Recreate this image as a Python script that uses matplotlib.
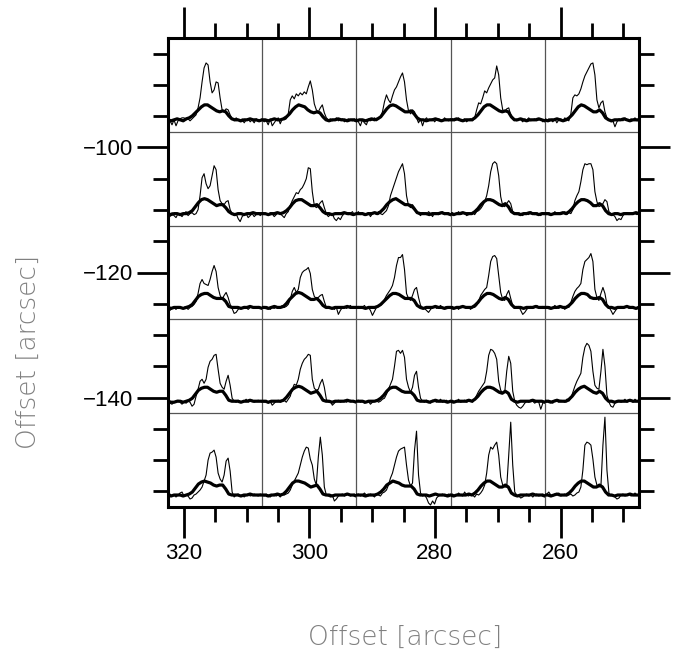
import numpy as np
import matplotlib
matplotlib.use("Agg")
import matplotlib.pyplot as plt
from matplotlib.ticker import MultipleLocator, FixedLocator

# ---------------- data ----------------
# map grid (arcsec offsets of panel centres)
COL_OFFSETS = [315, 300, 285, 270, 255]
ROW_OFFSETS = [-90, -105, -120, -135, -150]
PANEL_SIZE = 15
X_TICKS = [320, 300, 280, 260]
Y_TICKS = [-100, -120, -140]

# thin spectra (48 channels, arbitrary intensity units), one list per panel
THIN_R1 = [
    [1,-1,-5,0,-6,-1,1,2,2,0,1,-1,1,3,5,12,22,38,52,57,55,38,27,30,38,37,22,10,8,11,10,5,1,-1,2,0,-2,1,-3,0,1,-2,0,-3,1,-1,0,1],
    [0,-2,-1,-5,1,-6,-3,0,2,-4,1,0,1,6,20,24,21,26,24,27,25,28,26,33,39,30,16,10,8,12,15,7,2,0,1,-1,0,2,-1,0,1,-2,0,1,0,-1,1,0],
    [1,-2,-6,0,-3,-5,1,-1,0,2,-1,1,3,8,18,25,20,17,24,30,33,38,43,47,38,20,9,6,10,8,2,-3,1,-6,0,2,-1,0,1,-2,0,1,0,-1,2,0,-1,1],
    [0,1,-1,0,2,-1,0,1,-2,0,1,-1,2,10,17,16,22,29,27,32,36,40,42,54,45,22,10,8,11,12,5,1,0,-1,1,0,-2,1,0,2,-1,0,1,-1,0,1,-2,0],
    [0,-1,1,0,-2,1,-3,0,1,-1,2,0,-1,6,22,25,24,26,31,38,44,48,52,56,57,45,20,12,17,19,8,2,0,-2,-1,-7,-2,1,0,-1,2,0,-1,1,0,2,-1,0],
]
THIN_R2 = [
    [0,-3,1,-2,-4,0,-1,-3,0,2,-2,0,1,-1,0,4,18,36,40,30,25,28,38,48,44,24,13,10,9,12,13,4,0,-2,0,-5,-8,-3,-1,0,-4,-2,0,-3,-1,1,-2,0],
    [1,-1,0,-2,1,0,-3,-1,1,0,-2,-4,0,2,8,13,17,21,20,24,26,30,35,46,45,22,8,6,8,11,13,6,0,-3,-1,0,-5,-7,-4,-6,-2,0,1,-1,0,2,-1,0],
    [0,2,-1,1,-2,0,1,-3,0,1,-1,2,0,-1,1,3,8,18,24,30,36,42,46,50,40,18,8,6,9,6,1,0,-2,1,0,-1,2,0,-3,1,0,-1,0,2,-1,0,1,-1],
    [0,1,-1,0,2,-1,0,1,-2,-1,0,1,-1,2,3,5,8,12,18,28,42,50,52,50,38,17,8,7,10,13,10,2,0,-1,1,0,-2,1,0,-1,2,0,-1,1,0,-2,1,0],
    [0,-1,1,0,-1,2,0,1,-1,0,2,-1,1,0,4,13,18,22,32,44,50,49,50,50,44,22,12,7,8,10,14,12,2,0,-1,-3,-7,-5,-6,-2,0,1,-1,0,1,0,-1,0],
]
THIN_R3 = [
    [0,-3,-1,0,-2,1,0,-1,0,1,-2,0,1,3,6,14,24,28,24,23,22,28,36,42,36,20,12,8,12,15,10,3,-1,-6,-5,-2,0,-1,1,0,-2,0,1,-1,0,1,-1,0],
    [0,-1,1,0,-2,0,-1,1,0,-1,2,0,1,3,8,16,20,15,18,30,35,37,38,40,34,18,11,9,10,12,13,6,0,1,-1,0,-2,0,-7,-3,0,1,-1,0,2,-1,0,1],
    [0,1,-1,0,2,-1,0,-3,-8,-4,0,1,2,4,8,12,15,18,22,30,42,50,50,53,38,14,9,7,12,18,20,10,2,0,-1,-3,-5,-2,0,1,-1,0,2,-1,0,1,0,-1],
    [0,1,-1,0,-2,1,0,1,-1,0,-2,1,0,2,6,12,15,18,20,32,46,51,52,49,32,15,8,7,13,17,9,2,-1,0,1,-3,-7,-5,-2,0,1,-1,0,2,0,-1,1,0],
    [0,-1,1,0,-1,2,0,-1,1,0,-2,1,0,5,11,16,19,21,24,38,46,48,50,54,46,18,10,7,14,20,14,3,0,-3,-7,-4,-1,0,1,-1,0,2,-1,0,1,-1,0,1],
]
THIN_R4 = [
    [0,-2,-3,-1,0,1,-1,-3,0,-2,0,-1,-5,-3,5,12,20,22,18,22,34,40,42,46,47,32,18,14,12,20,26,16,3,0,-1,1,0,-1,0,2,-1,0,1,-1,0,1,0,-1],
    [0,-1,1,-2,0,-4,-2,0,1,-1,0,1,-1,2,5,12,17,16,22,32,38,42,44,47,46,22,13,11,12,18,22,14,2,-1,0,-4,-2,0,1,-1,0,1,-1,0,1,0,-1,0],
    [0,1,-1,0,-2,-1,0,-3,-1,0,1,-1,0,2,3,7,12,17,22,35,50,51,48,51,44,22,14,9,14,26,30,14,3,0,-1,1,0,-2,1,0,-1,0,2,-1,0,1,-1,0],
    [0,1,-1,0,2,-1,0,1,-1,0,1,-1,2,6,10,13,16,19,30,46,52,51,48,42,20,11,8,9,30,45,38,10,0,-4,-6,-7,-5,-2,0,-1,1,0,-2,0,-1,-8,-2,0],
    [0,-1,1,0,-2,1,0,-1,1,0,-1,2,0,3,9,15,20,24,28,44,54,58,56,50,30,16,13,12,30,52,35,6,-1,-5,-6,-2,0,1,-1,0,2,-1,0,1,-1,2,0,1],
]
THIN_R5 = [
    [0,1,-1,0,-2,0,2,3,-1,0,-1,-4,-3,0,1,3,5,8,14,20,35,42,43,45,38,22,16,13,20,34,37,24,3,-2,0,1,-1,0,-2,0,1,-1,0,1,0,-1,1,0],
    [0,-1,1,0,-2,0,1,-1,0,-2,1,0,1,2,5,10,14,18,22,30,38,44,48,47,36,30,16,10,38,58,40,8,0,-1,-2,0,-6,-4,-1,0,1,-1,0,1,-1,0,1,0],
    [0,1,-1,0,2,0,-1,1,0,-2,1,0,-1,2,3,5,10,17,22,30,38,44,46,47,48,30,15,9,12,45,64,20,2,-1,0,-3,-8,-10,-6,-9,-3,-1,0,1,-1,0,1,0],
    [0,1,-1,0,2,0,-1,3,0,-1,1,0,-2,1,0,2,5,10,22,40,48,46,50,53,40,18,10,8,8,40,73,30,3,0,-1,-3,-2,0,1,-1,0,-2,0,1,-1,0,1,0],
    [0,1,3,0,-1,1,0,2,-1,0,1,-1,0,1,-1,0,2,3,8,25,50,53,52,50,36,18,10,8,9,50,78,25,2,-1,0,-2,-4,-3,0,1,-1,0,1,-1,0,2,0,-1],
]

# thick (smoothed) spectra (32 channels, same units)
THICK_R1 = [
    [0,-1,0,1,0,-1,1,2,4,7,10,13,15,15,13,11,9,8,9,8,4,1,0,0,-1,0,0,1,0,0,-1,0],
    [0,0,-1,0,1,0,0,1,3,6,10,13,15,14,13,10,8,7,8,7,3,0,-1,0,0,1,0,0,-1,0,0,-1],
    [-1,0,0,-1,0,1,0,1,3,7,11,14,15,14,12,10,8,8,9,6,2,0,0,-1,0,0,1,0,-1,0,0,0],
    [0,0,1,0,-1,0,0,0,2,5,9,13,15,15,13,11,9,8,9,8,3,0,0,1,0,-1,0,0,0,1,0,-1],
    [0,-1,0,0,1,0,-1,0,2,5,9,13,15,14,12,10,8,8,10,7,2,0,-1,0,0,0,1,0,-1,0,0,0],
]
THICK_R2 = [
    [0,-1,0,0,-1,0,0,1,3,7,11,14,15,14,12,10,8,9,9,6,2,0,-1,0,0,-1,0,0,1,0,0,0],
    [0,0,-1,0,0,1,0,1,3,6,10,13,14,14,12,10,8,8,9,6,2,0,0,-1,0,0,0,1,0,0,-1,0],
    [0,0,0,-1,0,0,1,0,2,5,9,12,14,15,13,11,9,9,8,5,1,0,0,0,-1,0,0,0,1,0,0,-1],
    [0,-1,0,0,1,0,0,0,2,5,9,12,14,14,13,11,9,8,10,7,2,0,0,-1,0,0,1,0,0,-1,0,0],
    [0,0,-1,0,0,0,1,0,2,5,9,12,14,14,13,11,8,8,10,8,3,0,-1,0,0,-1,0,0,0,0,1,0],
]
THICK_R3 = [
    [0,-1,0,0,0,-1,0,1,3,7,11,13,14,14,12,10,9,9,9,6,1,0,0,0,-1,0,0,1,0,0,0,-1],
    [0,0,-1,0,1,0,0,1,4,8,11,14,15,14,12,10,8,8,9,6,2,0,0,-1,0,0,0,0,1,0,0,0],
    [0,0,0,-1,0,0,0,1,3,6,9,12,14,14,13,11,9,9,9,7,2,0,-1,0,0,0,1,0,0,-1,0,0],
    [0,-1,0,0,1,0,0,0,2,5,9,12,14,14,13,11,9,8,10,8,3,0,0,0,-1,0,0,0,1,0,0,0],
    [0,0,-1,0,0,1,0,0,2,5,9,12,14,14,13,10,9,9,10,8,3,0,0,-1,0,0,0,1,0,0,-1,0],
]
THICK_R4 = [
    [0,-1,-1,0,0,-1,0,1,3,7,11,13,14,14,12,10,9,10,10,6,1,0,0,0,-1,0,0,1,0,0,0,0],
    [0,0,-1,0,0,0,0,1,4,8,12,14,15,14,12,10,8,9,10,6,1,0,0,-1,0,0,0,0,1,0,0,-1],
    [0,0,0,-1,0,0,0,1,3,6,10,13,14,14,12,10,9,9,9,6,1,0,0,0,-1,0,1,0,0,0,-1,0],
    [0,-1,0,0,0,0,1,0,2,5,9,12,14,14,13,11,9,8,10,8,2,0,-1,0,0,0,0,1,0,0,0,-1],
    [0,0,-1,0,1,0,0,0,2,5,9,12,14,15,13,11,9,8,10,8,3,0,0,-1,0,0,0,0,1,0,0,0],
]
THICK_R5 = [
    [0,-1,0,0,0,-1,0,1,3,7,11,13,14,13,12,10,9,10,10,6,1,0,0,0,-1,0,0,1,0,0,0,0],
    [0,0,-1,0,0,1,0,1,4,8,12,14,14,13,12,10,8,9,10,6,1,0,0,-1,0,0,0,0,1,0,0,-1],
    [0,0,0,-1,0,0,0,1,3,6,10,12,14,13,12,10,9,9,9,6,1,0,0,0,-1,0,1,0,0,0,-1,0],
    [0,-1,0,0,0,0,1,0,2,5,9,12,14,14,12,10,8,8,10,8,2,0,-1,0,0,0,0,1,0,0,0,-1],
    [0,0,-1,0,1,0,0,0,2,5,9,12,14,14,12,10,8,8,10,8,3,0,0,-1,0,0,0,0,1,0,0,0],
]

THIN_ROWS = [THIN_R1, THIN_R2, THIN_R3, THIN_R4, THIN_R5]
THICK_ROWS = [THICK_R1, THICK_R2, THICK_R3, THICK_R4, THICK_R5]

# ---------------- figure ----------------
fig = plt.figure(figsize=(6.83, 6.55), dpi=100)
ax = fig.add_axes([168 / 683, 148 / 655, 471 / 683, 469 / 655])

half = PANEL_SIZE / 2
x_left, x_right = max(COL_OFFSETS) + half, min(COL_OFFSETS) - half
y_bot, y_top = min(ROW_OFFSETS) - half, max(ROW_OFFSETS) + half
ax.set_xlim(x_left, x_right)
ax.set_ylim(y_bot, y_top)

# panel dividers
for xc in COL_OFFSETS[:-1]:
    ax.axvline(xc - half, color="#555555", lw=0.9, zorder=1)
for yc in ROW_OFFSETS[:-1]:
    ax.axhline(yc - half, color="#555555", lw=0.9, zorder=1)

# ticks
ax.xaxis.set_major_locator(FixedLocator(X_TICKS))
ax.yaxis.set_major_locator(FixedLocator(Y_TICKS))
ax.xaxis.set_minor_locator(MultipleLocator(5))
ax.yaxis.set_minor_locator(MultipleLocator(5))
ax.tick_params(which="both", direction="out", top=True, right=True,
               width=2.0, color="black")
ax.tick_params(which="major", length=22)
ax.tick_params(which="minor", length=11)
ax.tick_params(axis="x", which="major", pad=4)
ax.tick_params(axis="y", which="major", pad=3)
ax.set_xticklabels([str(t) for t in X_TICKS])
ax.set_yticklabels(["\u2212" + str(abs(t)) for t in Y_TICKS])
for lab in ax.get_xticklabels() + ax.get_yticklabels():
    lab.set_fontfamily("Liberation Sans")
    lab.set_fontsize(16)
for sp in ax.spines.values():
    sp.set_linewidth(2.2)

# spectra, one inset per panel (positions in axes fractions)
xspan = x_left - x_right
yspan = y_top - y_bot
for r, yc in enumerate(ROW_OFFSETS):
    for c, xc in enumerate(COL_OFFSETS):
        fx = (x_left - (xc + half)) / xspan
        fy = ((yc - half) - y_bot) / yspan
        sub = ax.inset_axes([fx, fy, PANEL_SIZE / xspan, PANEL_SIZE / yspan])
        thin = THIN_ROWS[r][c]
        thick = THICK_ROWS[r][c]
        sub.plot(np.arange(len(thin)), thin, color="black", lw=0.8)
        ch_thick = np.arange(len(thick)) * (len(thin) - 1) / (len(thick) - 1)
        sub.plot(ch_thick, thick, color="black", lw=2.3)
        sub.set_xlim(0, len(thin) - 1)
        sub.set_ylim(-12, 82)
        sub.axis("off")
        sub.patch.set_alpha(0)

# axis titles
fig.text(405 / 683, 1 - 637 / 655, "Offset [arcsec]", ha="center", va="center",
         fontsize=19, color="#808080", fontweight="light", family="DejaVu Sans")
fig.text(28 / 683, 1 - 352 / 655, "Offset [arcsec]", ha="center", va="center",
         rotation=90, fontsize=19, color="#808080", fontweight="light",
         family="DejaVu Sans")

fig.savefig("out.png", dpi=100)
